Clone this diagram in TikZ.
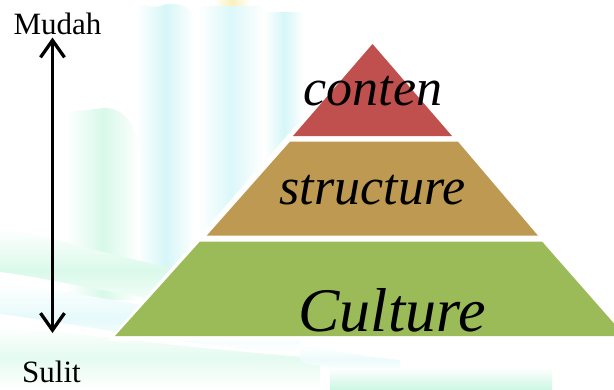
\documentclass[tikz,border=0pt]{standalone}
\usepackage{fontspec}
\setmainfont{Liberation Serif}
\usetikzlibrary{arrows.meta}

\definecolor{layerTop}{RGB}{192,80,77}
\definecolor{layerMid}{RGB}{189,153,82}
\definecolor{layerBase}{RGB}{155,187,89}
\definecolor{wmCyan}{RGB}{214,246,248}
\definecolor{wmMint}{RGB}{206,247,228}
\definecolor{wmYellow}{RGB}{250,238,185}

\tikzset{
  layer/.style={draw=none},
  layertext/.style={anchor=base, inner sep=0pt, font=\itshape},
  sidelabel/.style={anchor=base, inner sep=0pt},
  scale arrow/.style={line width=3.3pt, {Straight Barb[length=17pt,width=24pt]}-{Straight Barb[length=17pt,width=24pt]}},
  pillar/.style={left color=white, right color=white, middle color=#1},
  band/.style={top color=white, bottom color=white, middle color=#1},
}

\begin{document}
\begin{tikzpicture}[x=1pt, y=-1pt]
  \useasboundingbox (0,0) rectangle (614,389);
  \fill[white] (0,0) rectangle (614,389);

  % faint background motif
  \begin{scope}
    \clip (0,0) rectangle (614,389);
    \shade[inner color=wmYellow, outer color=white] (232,2) circle (18);
    \shade[pillar=wmCyan] (136,10) -- (136,300) -- (195,300) -- (195,18) to[out=110,in=20] (160,6) to[out=200,in=90] cycle;
    \shade[pillar=wmCyan!85] (198,6) rectangle (264,300);
    \shade[pillar=wmCyan] (264,12) rectangle (304,300);
    \shade[pillar=wmMint!80] (66,112) -- (66,300) -- (140,300) -- (140,150) to[out=100,in=0] (105,108) -- cycle;
    \shade[band=wmMint!75] (0,228) .. controls (60,236) and (140,270) .. (300,288)
      -- (300,314) .. controls (140,304) and (60,279) .. (0,272) -- cycle;
    \shade[band=wmCyan!60] (0,282) .. controls (80,292) and (170,314) .. (300,326)
      -- (300,354) .. controls (170,344) and (80,324) .. (0,314) -- cycle;
    \shade[band=wmMint!55] (0,326) .. controls (90,334) and (180,348) .. (320,358)
      -- (320,389) -- (0,389) -- cycle;
    \shade[band=wmCyan!45] (300,345) .. controls (330,350) and (360,356) .. (400,360)
      -- (400,374) .. controls (360,372) and (330,368) .. (300,362) -- cycle;
    \shade[top color=white, bottom color=wmMint] (330,368) rectangle (552,389);
  \end{scope}

  % white rim round the pyramid
  \fill[white] (372.5,38) -- (108,340.5) -- (640,340.5) -- cycle;

  % pyramid layers
  \fill[layer, layerTop]  (372.5,44) -- (293,136) -- (452,136) -- cycle;
  \fill[layer, layerMid]  (290,141.7) -- (206.7,235.7) -- (538,235.7) -- (458,141.7) -- cycle;
  \fill[layer, layerBase] (200,241.5) -- (115,336) -- (625,336) -- (542,241.5) -- cycle;

  \node[layertext, font=\itshape\fontsize{52}{60}\selectfont] (conten) at (373,105) {conten};
  \node[layertext, font=\itshape\fontsize{52}{60}\selectfont] (structure) at (372.5,204) {structure};
  \node[layertext, font=\itshape\fontsize{62}{70}\selectfont] (culture) at (392,331.7) {Culture};

  % difficulty scale
  \node[sidelabel, font=\fontsize{31}{36}\selectfont] (mudah) at (57.5,34) {Mudah};
  \node[sidelabel, font=\fontsize{31}{36}\selectfont] (sulit) at (51.5,382.7) {Sulit};
  \coordinate (easyEnd) at (52.5,37.5);
  \coordinate (hardEnd) at (52.5,333);
  \draw[scale arrow] (easyEnd) -- (hardEnd);
\end{tikzpicture}
\end{document}
